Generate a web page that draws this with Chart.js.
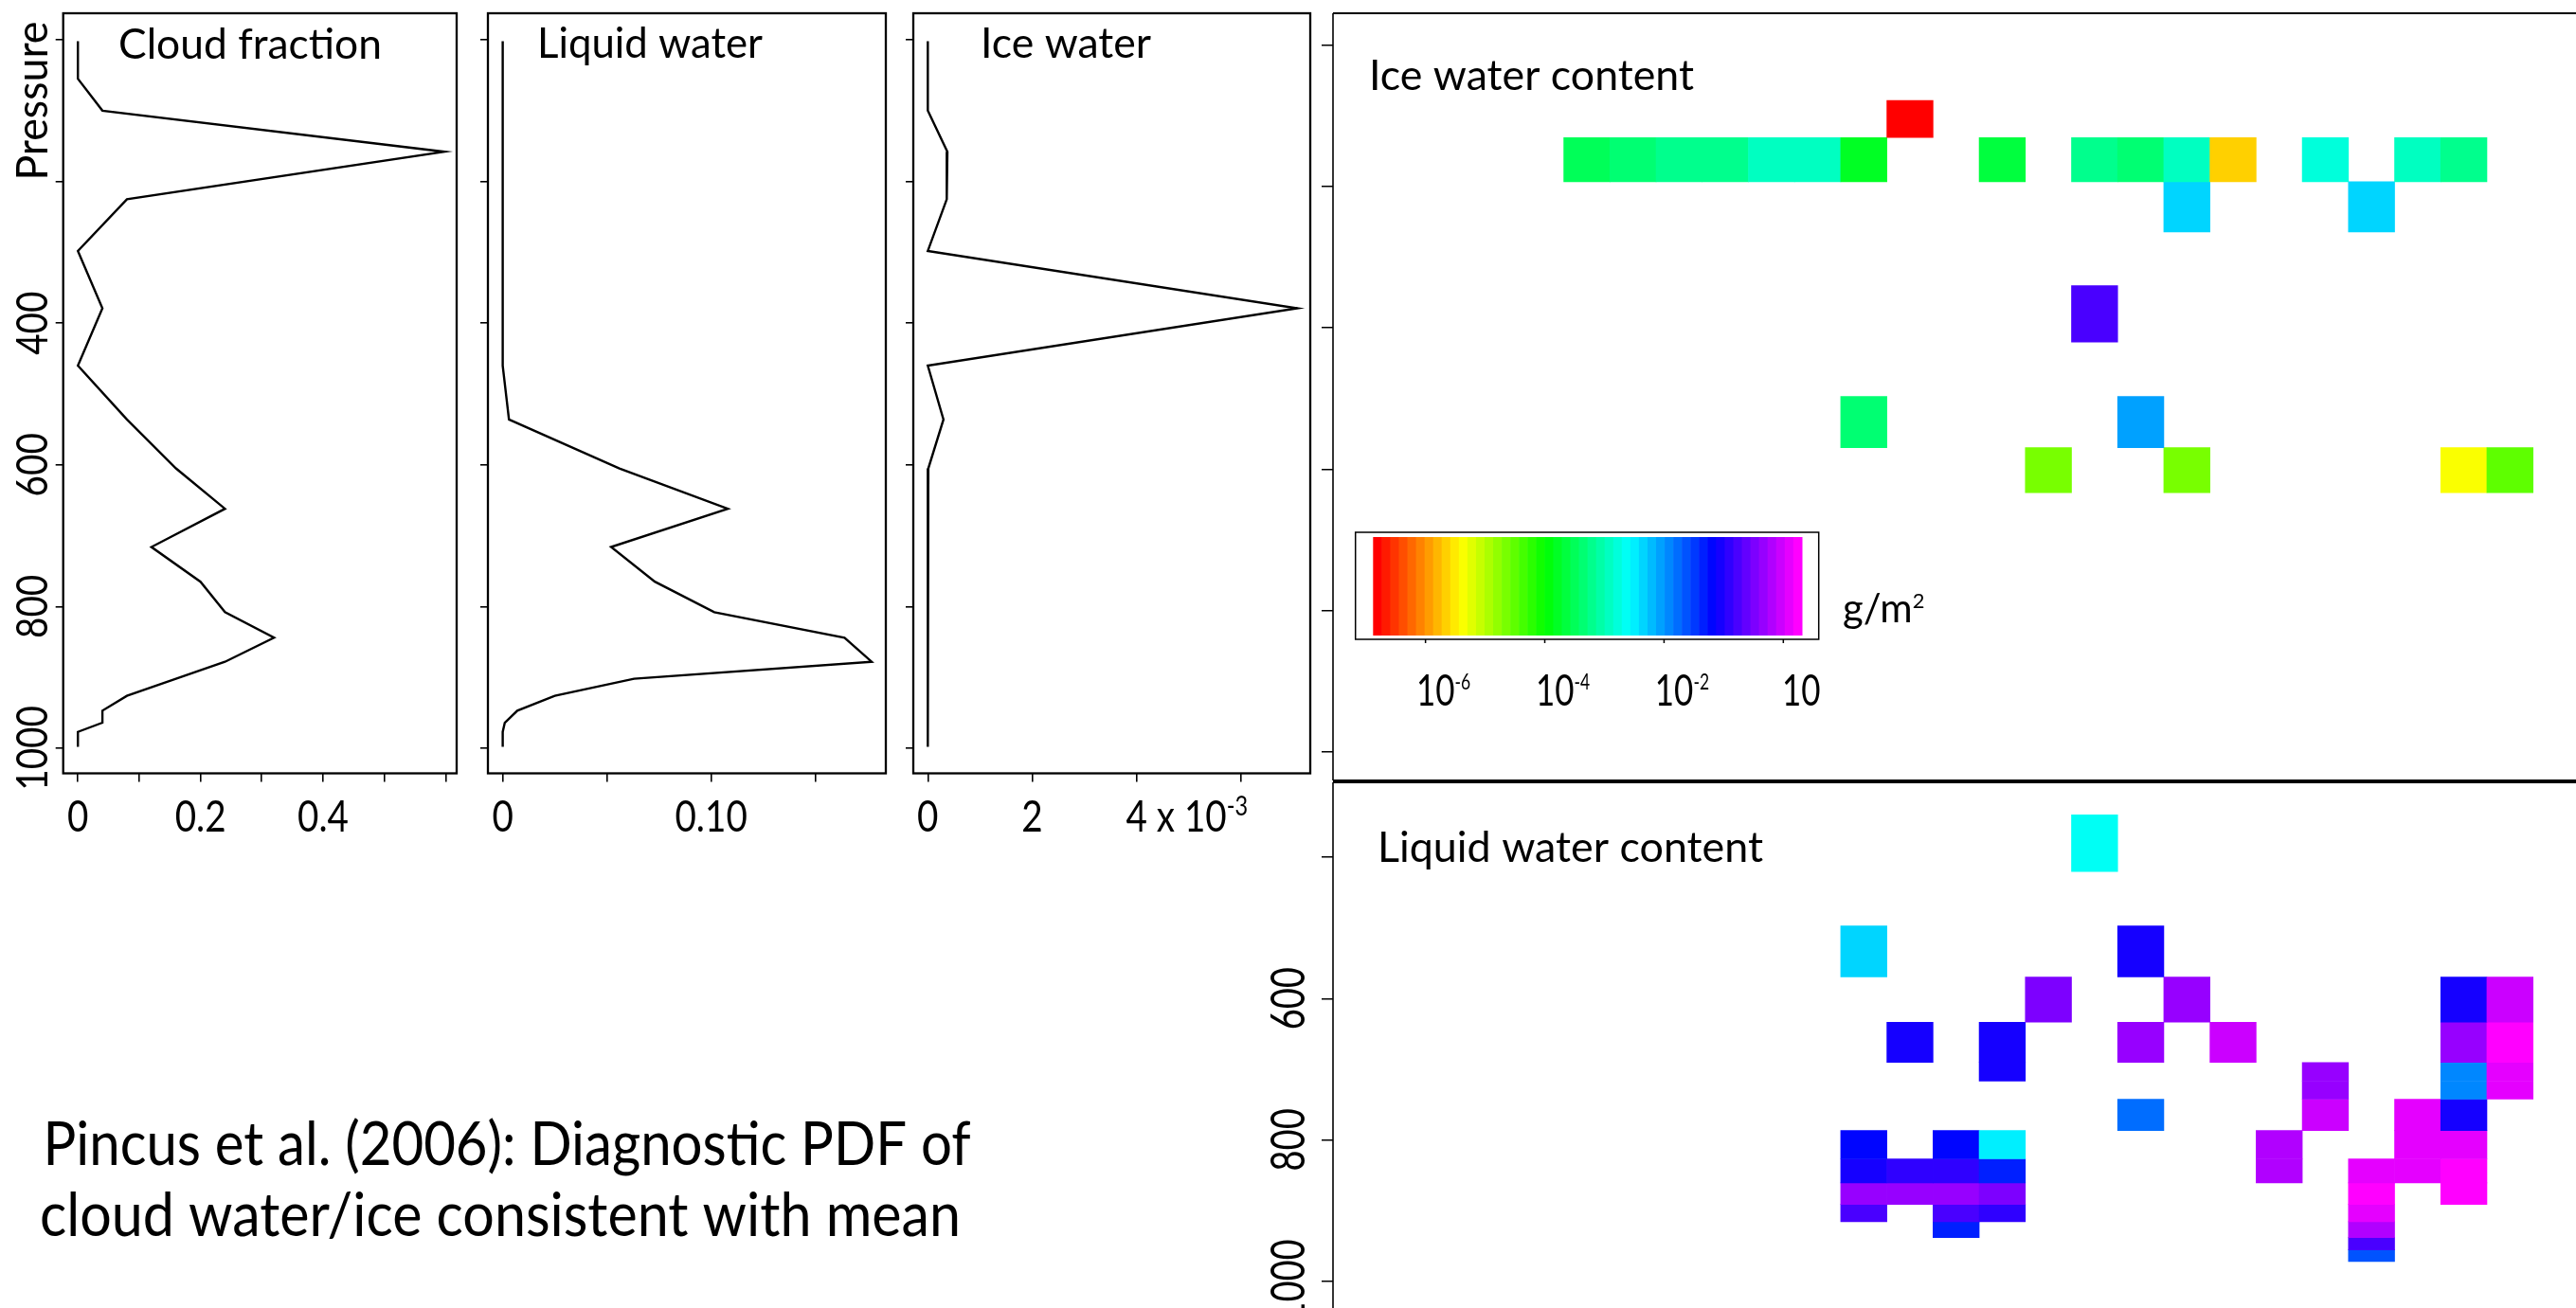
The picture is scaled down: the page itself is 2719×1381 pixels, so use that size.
<!DOCTYPE html>
<html><head><meta charset="utf-8">
<script src="https://cdn.jsdelivr.net/npm/chart.js@4.4.1/dist/chart.umd.min.js"></script>
<style>
html,body{margin:0;padding:0;background:#fff;overflow:hidden;width:2719px;height:1381px;position:relative}
canvas{position:absolute;display:block}
</style></head><body>
<canvas id="pCloud"></canvas>
<canvas id="pLiquid"></canvas>
<canvas id="pIce"></canvas>
<canvas id="hIce"></canvas>
<canvas id="hLiq"></canvas>
<canvas id="cbar"></canvas>
<canvas id="caption"></canvas>
<script>
// ---------------- DATA ----------------
const pressureLevels = [2, 55, 100, 158, 225, 298, 379, 460, 536, 605, 662, 716, 765, 808, 844, 878, 902, 926, 947, 964, 977, 998];
const cloudFraction = [0, 0, 0.04, 0.598, 0.08, 0, 0.04, 0, 0.08, 0.16, 0.24, 0.12, 0.2, 0.24, 0.32, 0.24, 0.16, 0.08, 0.04, 0.04, 0, 0];
const liquidWater = [0, 0, 0, 0, 0, 0, 0, 0, 0.003, 0.056, 0.108, 0.052, 0.073, 0.1015, 0.164, 0.177, 0.063, 0.025, 0.007, 0.001, 0, 0];
const iceWater = [0, 0, 0, 0.375, 0.363, 0, 7.08, 0, 0.30, 0.01, 0, 0, 0, 0, 0, 0, 0, 0, 0, 0, 0, 0]; // x 10^-3

const pressureTicks = [0, 200, 400, 600, 800, 1000];
const pressureTickLabels = ['', '', '400', '600', '800', '1000'];
const cloudTicks = [0, 0.1, 0.2, 0.3, 0.4, 0.5, 0.6];
const cloudTickLabels = ['0', '', '0.2', '', '0.4', '', ''];
const liquidTicks = [0, 0.05, 0.10, 0.15];
const liquidTickLabels = ['0', '', '0.10', ''];
const iceTicks = [0, 2, 4, 6];
const iceTickLabels = ['0', '2', '4', ''];
const iceTickSuffix = ['', '', ' x 10', ''];
const iceTickSup = ['', '', '-3', ''];

const heatColumns = [-5, -4, -3, -2, -1, 0, 1, 2, 3, 4, 5, 6, 7, 8, 9, 10, 11, 12, 13, 14, 15, 16, 17, 18, 19, 20, 21];
const heatRowEdges = [78, 130.5, 193, 264, 340, 420, 497, 569.5, 633.5, 690.5, 717, 742.5, 787, 827, 861, 891.5, 916, 938.5, 956, 972.5];

// Ice water content cells (column, row, g/m2)
const iceCellCol = [7, 0, 1, 2, 3, 4, 5, 6, 9, 11, 12, 13, 14, 16, 18, 19, 13, 17, 11, 6, 12, 10, 13, 19, 20];
const iceCellRow = [0, 1, 1, 1, 1, 1, 1, 1, 1, 1, 1, 1, 1, 1, 1, 1, 2, 2, 4, 6, 6, 7, 7, 7, 7];
const iceCellVal = [1.6e-7, 3.2e-4, 4.4e-4, 6.1e-4, 6.1e-4, 1.2e-3, 1.2e-3, 1.6e-4, 2.3e-4, 6.1e-4, 4.4e-4, 1.2e-3, 2.2e-6, 1.7e-3, 1.2e-3, 6.1e-4, 4.5e-3, 4.5e-3, 0.17, 4.4e-4, 8.7e-3, 2.2e-5, 2.2e-5, 4.3e-6, 3.1e-5];

// Liquid water content cells (column, row, g/m2)
const liqCellCol = [11, 6, 12, 10, 13, 19, 20, 7, 9, 12, 14, 19, 20, 9, 16, 19, 20, 16, 19, 20, 12, 16, 18, 19, 6, 8, 9, 15, 18, 19, 6, 7, 8, 9, 15, 17, 18, 19, 6, 7, 8, 9, 17, 19, 6, 8, 9, 17, 8, 17, 17, 17];
const liqCellRow = [4, 6, 6, 7, 7, 7, 7, 8, 8, 8, 8, 8, 8, 9, 9, 9, 9, 10, 10, 10, 11, 11, 11, 11, 12, 12, 12, 12, 12, 12, 13, 13, 13, 13, 13, 13, 13, 13, 14, 14, 14, 14, 14, 14, 15, 15, 15, 15, 16, 16, 17, 18];
const liqCellVal = [2.3e-3, 4.5e-3, 8.8e-2, 0.33, 0.46, 8.8e-2, 0.89, 8.8e-2, 8.8e-2, 0.46, 0.89, 0.46, 1.7, 8.8e-2, 0.46, 1.2e-2, 1.25, 0.46, 1.2e-2, 1.25, 1.7e-2, 0.89, 1.25, 8.8e-2, 6.3e-2, 6.3e-2, 3.2e-3, 0.64, 1.25, 1.25, 8.8e-2, 0.12, 0.12, 4.5e-2, 0.64, 1.25, 1.25, 1.7, 0.46, 0.46, 0.46, 0.33, 1.7, 1.7, 0.17, 0.17, 0.12, 1.25, 4.5e-2, 0.64, 0.17, 2.3e-2];

const heatTopTicks = [0, 200, 400, 600, 800, 1000];
const heatBottomTicks = [400, 600, 800, 1000];
const heatBottomTickLabels = ['', '600', '800', '1000'];

const colorbarLogMin = -6.879, colorbarLogMax = 0.311, colorbarBands = 50;
const colorbarTicks = [-6, -4, -2, 0];
const colorbarTickBase = ['10', '10', '10', '10'];
const colorbarTickSup = ['-6', '-4', '-2', ''];

// ---------------- HELPERS ----------------
const FONT = 'Lato';
Chart.defaults.font.family = FONT;

function hueColor(h) {
  const f = n => { const k = (n + h / 60) % 6; return Math.round(255 * (1 - Math.max(0, Math.min(k, 4 - k, 1)))); };
  return `rgb(${f(5)},${f(3)},${f(1)})`;
}
function bandColor(k) { return hueColor(k / (colorbarBands - 1) * 300); }
function valueColor(v) {
  const lg = Math.log10(v);
  let k = Math.floor((lg - colorbarLogMin) / (colorbarLogMax - colorbarLogMin) * colorbarBands);
  k = Math.max(0, Math.min(colorbarBands - 1, k));
  return bandColor(k);
}
function drawSegs(ctx, segs, x, y, opt) {
  opt = opt || {};
  ctx.save();
  ctx.fillStyle = '#000';
  ctx.textBaseline = 'alphabetic';
  ctx.textAlign = 'left';
  let total = 0;
  const widths = segs.map(s => { ctx.font = `${s.size}px ${FONT}`; const w = ctx.measureText(s.t).width; total += w; return w; });
  const sx = opt.width ? opt.width / total : (opt.sx || 1);
  ctx.translate(x, y);
  if (opt.rot) ctx.rotate(opt.rot);
  ctx.scale(sx, 1);
  let cx = 0;
  if (opt.align === 'center') cx = -total / 2;
  else if (opt.align === 'right') cx = -total;
  else if (opt.align === 'first') cx = -widths[0] / 2;
  segs.forEach((s, i) => { ctx.font = `${s.size}px ${FONT}`; ctx.fillText(s.t, cx, s.dy || 0); cx += widths[i]; });
  ctx.restore();
}
function place(cv, pos) {
  cv.width = pos.w; cv.height = pos.h;
  cv.style.left = pos.x + 'px'; cv.style.top = pos.y + 'px';
  cv.style.width = pos.w + 'px'; cv.style.height = pos.h + 'px';
}
const tickGrid = (len, w) => ({ display: true, drawOnChartArea: false, drawTicks: true, tickLength: len, color: '#000', lineWidth: w });

const P_MIN = -37.5, P_MAX = 1035.5;

function makeLine(id, pos, area, xMin, xMax, xTicks, values, deco) {
  const cv = document.getElementById(id);
  place(cv, pos);
  const YW = 8, XH = 9;
  return new Chart(cv, {
    type: 'scatter',
    data: { datasets: [{ data: pressureLevels.map((p, i) => ({ x: values[i], y: p })), showLine: true, borderColor: '#000', borderWidth: 2.4, pointRadius: 0, tension: 0, fill: false, borderJoinStyle: 'miter' }] },
    options: {
      responsive: false, animation: false, events: [],
      layout: { padding: { left: area.l - pos.x - YW, top: area.t - pos.y, right: pos.x + pos.w - area.r, bottom: pos.y + pos.h - area.b - XH } },
      plugins: { legend: { display: false }, tooltip: { enabled: false } },
      scales: {
        x: { type: 'linear', position: 'bottom', min: xMin, max: xMax,
             afterBuildTicks: s => { s.ticks = xTicks.map(v => ({ value: v })); },
             afterFit: s => { s.height = XH; },
             ticks: { display: false }, grid: tickGrid(XH, 1.6), border: { display: false } },
        y: { type: 'linear', position: 'left', reverse: true, min: P_MIN, max: P_MAX,
             afterBuildTicks: s => { s.ticks = pressureTicks.map(v => ({ value: v })); },
             afterFit: s => { s.width = YW; },
             ticks: { display: false }, grid: tickGrid(YW, 1.6), border: { display: false } }
      }
    },
    plugins: [{ id: 'deco', afterDraw(chart) {
      const ctx = chart.ctx, ca = chart.chartArea;
      ctx.save(); ctx.strokeStyle = '#000'; ctx.lineWidth = 2.3;
      ctx.strokeRect(ca.left, ca.top, ca.right - ca.left, ca.bottom - ca.top);
      ctx.restore();
      deco(chart, ctx, ca, chart.scales.x, chart.scales.y);
    } }]
  });
}

const TICK_FS = 46, TICK_SX = 0.84, XLAB_DY = 61.5;

// Panel 1: Cloud fraction
makeLine('pCloud', { x: 0, y: 0, w: 500, h: 900 }, { l: 66.7, t: 14, r: 482, b: 816.5 }, -0.024, 0.618, cloudTicks, cloudFraction,
  (chart, ctx, ca, xs, ys) => {
    drawSegs(ctx, [{ t: 'Cloud fraction', size: 44 }], ca.left + 58.3, ca.top + 47.7, { width: 278 });
    cloudTicks.forEach((v, i) => { if (cloudTickLabels[i]) drawSegs(ctx, [{ t: cloudTickLabels[i], size: TICK_FS }], xs.getPixelForValue(v), ca.bottom + XLAB_DY, { align: 'center', sx: TICK_SX }); });
    pressureTicks.forEach((v, i) => { if (pressureTickLabels[i]) drawSegs(ctx, [{ t: pressureTickLabels[i], size: TICK_FS }], ca.left - 16.7, ys.getPixelForValue(v), { align: 'center', sx: TICK_SX, rot: -Math.PI / 2 }); });
    drawSegs(ctx, [{ t: 'Pressure', size: TICK_FS }], ca.left - 16.7, ca.top + 92.6, { align: 'center', width: 168, rot: -Math.PI / 2 });
  });

// Panel 2: Liquid water
makeLine('pLiquid', { x: 490, y: 0, w: 460, h: 900 }, { l: 515, t: 14, r: 935, b: 816.5 }, -0.0071, 0.1838, liquidTicks, liquidWater,
  (chart, ctx, ca, xs) => {
    drawSegs(ctx, [{ t: 'Liquid water', size: 45 }], ca.left + 52, ca.top + 46.6, { width: 238 });
    liquidTicks.forEach((v, i) => { if (liquidTickLabels[i]) drawSegs(ctx, [{ t: liquidTickLabels[i], size: TICK_FS }], xs.getPixelForValue(v), ca.bottom + XLAB_DY, { align: 'center', sx: TICK_SX }); });
  });

// Panel 3: Ice water
makeLine('pIce', { x: 940, y: 0, w: 460, h: 900 }, { l: 964, t: 14, r: 1383, b: 816.5 }, -0.278, 7.327, iceTicks, iceWater,
  (chart, ctx, ca, xs) => {
    drawSegs(ctx, [{ t: 'Ice water', size: 44 }], ca.left + 71, ca.top + 46.6, { width: 180 });
    iceTicks.forEach((v, i) => {
      if (!iceTickLabels[i]) return;
      const segs = [{ t: iceTickLabels[i], size: TICK_FS }];
      if (iceTickSuffix[i]) segs.push({ t: iceTickSuffix[i], size: TICK_FS });
      if (iceTickSup[i]) segs.push({ t: iceTickSup[i], size: 28, dy: -17 });
      drawSegs(ctx, segs, xs.getPixelForValue(v), ca.bottom + XLAB_DY, { align: 'first', sx: TICK_SX });
    });
  });

// ---------------- HEATMAPS ----------------
function heatDatasets(cellCol, cellRow, cellVal) {
  const ds = [];
  for (let r = 0; r < heatRowEdges.length - 1; r++) {
    const data = heatColumns.map(() => null);
    const colors = heatColumns.map(() => 'rgba(0,0,0,0)');
    cellRow.forEach((row, i) => {
      if (row !== r) return;
      const j = heatColumns.indexOf(cellCol[i]);
      data[j] = [heatRowEdges[r], heatRowEdges[r + 1]];
      colors[j] = valueColor(cellVal[i]);
    });
    ds.push({ data, backgroundColor: colors, borderWidth: 0, barPercentage: 1, categoryPercentage: 1, grouped: false });
  }
  return ds;
}
function makeHeat(id, pos, area, yMin, yMax, yTicks, cellCol, cellRow, cellVal, deco) {
  const cv = document.getElementById(id);
  place(cv, pos);
  const YW = 12;
  return new Chart(cv, {
    type: 'bar',
    data: { labels: heatColumns.map(String), datasets: heatDatasets(cellCol, cellRow, cellVal) },
    options: {
      responsive: false, animation: false, events: [],
      layout: { padding: { left: area.l - pos.x - YW, top: area.t - pos.y, right: pos.x + pos.w - area.r, bottom: pos.y + pos.h - area.b } },
      plugins: { legend: { display: false }, tooltip: { enabled: false } },
      scales: {
        x: { type: 'category', display: false },
        y: { type: 'linear', position: 'left', reverse: true, min: yMin, max: yMax,
             afterBuildTicks: s => { s.ticks = yTicks.map(v => ({ value: v })); },
             afterFit: s => { s.width = YW; },
             ticks: { display: false }, grid: tickGrid(YW, 1.5), border: { display: false } }
      }
    },
    plugins: [{ id: 'deco', afterDraw(chart) { deco(chart, chart.ctx, chart.chartArea, chart.scales.y); } }]
  });
}

makeHeat('hIce', { x: 1367, y: 0, w: 1363, h: 840 }, { l: 1407, t: 14, r: 2722.4, b: 824 }, -45.6, 1040.9, heatTopTicks,
  iceCellCol, iceCellRow, iceCellVal,
  (chart, ctx, ca) => {
    ctx.save(); ctx.strokeStyle = '#000';
    ctx.lineWidth = 2; ctx.beginPath(); ctx.moveTo(ca.left, ca.top); ctx.lineTo(ca.right, ca.top); ctx.stroke();
    ctx.lineWidth = 1.6; ctx.beginPath(); ctx.moveTo(ca.left, ca.top); ctx.lineTo(ca.left, ca.bottom); ctx.stroke();
    ctx.lineWidth = 1.8; ctx.beginPath(); ctx.moveTo(ca.left, ca.bottom); ctx.lineTo(ca.right, ca.bottom); ctx.stroke();
    ctx.restore();
    drawSegs(ctx, [{ t: 'Ice water content', size: 45 }], ca.left + 38, ca.top + 81, { width: 343 });
  });

makeHeat('hLiq', { x: 1300, y: 800, w: 1430, h: 600 }, { l: 1407, t: 826, r: 2722.4, b: 1385 }, 293.8, 1043.6, heatBottomTicks,
  liqCellCol, liqCellRow, liqCellVal,
  (chart, ctx, ca, ys) => {
    ctx.save(); ctx.strokeStyle = '#000';
    ctx.lineWidth = 1.8; ctx.beginPath(); ctx.moveTo(ca.left, ca.top); ctx.lineTo(ca.right, ca.top); ctx.stroke();
    ctx.lineWidth = 1.6; ctx.beginPath(); ctx.moveTo(ca.left, ca.top); ctx.lineTo(ca.left, ca.bottom); ctx.stroke();
    ctx.restore();
    drawSegs(ctx, [{ t: 'Liquid water content', size: 45 }], ca.left + 47, ca.top + 83.5, { width: 407 });
    heatBottomTicks.forEach((v, i) => { if (heatBottomTickLabels[i]) drawSegs(ctx, [{ t: heatBottomTickLabels[i], size: 50 }], ca.left - 30, ys.getPixelForValue(v), { align: 'center', sx: 0.76, rot: -Math.PI / 2 }); });
  });

// ---------------- COLORBAR ----------------
(function () {
  const cv = document.getElementById('cbar');
  const pos = { x: 1400, y: 540, w: 700, h: 240 }, area = { l: 1449.3, t: 567, r: 1901.9, b: 671 };
  place(cv, pos);
  new Chart(cv, {
    type: 'scatter',
    data: { datasets: [] },
    options: {
      responsive: false, animation: false, events: [],
      layout: { padding: { left: area.l - pos.x, top: area.t - pos.y, right: pos.x + pos.w - area.r, bottom: pos.y + pos.h - area.b } },
      plugins: { legend: { display: false }, tooltip: { enabled: false } },
      scales: {
        x: { type: 'linear', display: false, min: colorbarLogMin, max: colorbarLogMax },
        y: { type: 'linear', display: false, min: 0, max: 1 }
      }
    },
    plugins: [{ id: 'bands', afterDraw(chart) {
      const ctx = chart.ctx, ca = chart.chartArea, xs = chart.scales.x;
      const w = (colorbarLogMax - colorbarLogMin) / colorbarBands;
      for (let k = 0; k < colorbarBands; k++) {
        const x0 = xs.getPixelForValue(colorbarLogMin + k * w), x1 = xs.getPixelForValue(colorbarLogMin + (k + 1) * w);
        ctx.fillStyle = bandColor(k);
        ctx.fillRect(x0, ca.top, x1 - x0 + 0.6, ca.bottom - ca.top);
      }
      ctx.save(); ctx.strokeStyle = '#000'; ctx.lineWidth = 1.5;
      ctx.strokeRect(ca.left - 18.6, ca.top - 5, (ca.right - ca.left) + 36.4, (ca.bottom - ca.top) + 9);
      colorbarTicks.forEach(v => {
        const x = xs.getPixelForValue(v);
        ctx.beginPath(); ctx.moveTo(x, ca.bottom + 4); ctx.lineTo(x, ca.bottom + 8); ctx.stroke();
      });
      ctx.restore();
      colorbarTicks.forEach((v, i) => {
        const segs = [{ t: colorbarTickBase[i], size: 46 }];
        if (colorbarTickSup[i]) segs.push({ t: colorbarTickSup[i], size: 23, dy: -17 });
        drawSegs(ctx, segs, xs.getPixelForValue(v) + 19, ca.bottom + 74, { align: 'center', sx: 0.76 });
      });
      drawSegs(ctx, [{ t: 'g/m', size: 42 }, { t: '2', size: 22, dy: -15 }], ca.right + 43, ca.bottom - 14.3, { width: 86.5 });
    } }]
  });
})();

// ---------------- CAPTION ----------------
(function () {
  const cv = document.getElementById('caption');
  place(cv, { x: 0, y: 1150, w: 1100, h: 231 });
  const ctx = cv.getContext('2d');
  drawSegs(ctx, [{ t: 'Pincus et al. (2006): Diagnostic PDF of', size: 63 }], 45.6, 80, { width: 979 });
  drawSegs(ctx, [{ t: 'cloud water/ice consistent with mean', size: 63 }], 42, 155, { width: 972 });
})();
</script>
</body></html>
